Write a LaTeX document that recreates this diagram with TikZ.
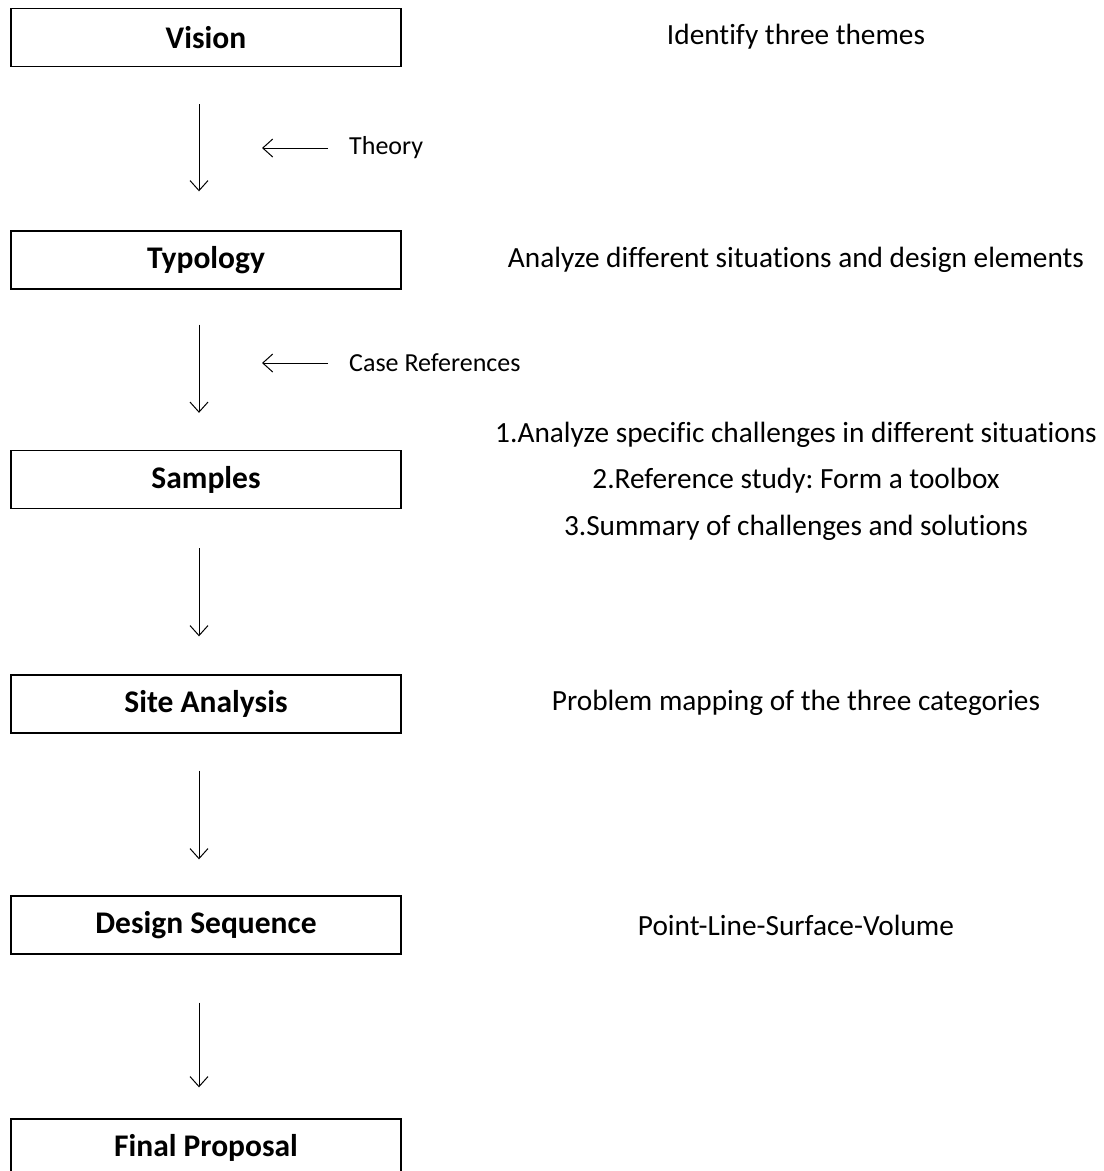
\documentclass[tikz,border=0pt]{standalone}
\usepackage{fontspec}
\setmainfont{Carlito}[Ligatures=CommonOff]
\frenchspacing
\usetikzlibrary{arrows.meta,calc}

\tikzset{
  stage/.style={draw, line width=1.4pt, minimum width=390pt, minimum height=58pt, inner sep=0pt,
    font=\fontsize{31.5}{37}\selectfont\bfseries},
  remark/.style={inner sep=0pt, font=\fontsize{29.3}{35}\selectfont},
  input/.style={remark, anchor=west, font=\fontsize{26}{31}\selectfont},
  flow/.style={-{Straight Barb[length=10pt,width=18pt]}, line width=1pt},
}

\begin{document}
\begin{tikzpicture}[x=1pt,y=-1pt]
  \useasboundingbox (0,0) rectangle (1104,1171);
  % stages
  \node[stage] (vision) at (206,37.5) {Vision};
  \node[stage] (typology) at (206,260) {Typology};
  \node[stage] (samples) at (206,479.5) {Samples};
  \node[stage] (site) at (206,704) {Site Analysis};
  \node[stage] (design) at (206,925) {Design Sequence};
  \node[stage] (final) at (206,1148) {Final Proposal};
  % remarks on the right
  \node[remark] (themes) at (796,37) {Identify three themes};
  \node[remark] (situations) at (796,260) {Analyze different situations and design elements};
  \node[remark] (challenges) at (796,435) {1.Analyze specific challenges in different situations};
  \node[remark] (toolbox) at (796,481) {2.Reference study: Form a toolbox};
  \node[remark] (summary) at (796,528) {3.Summary of challenges and solutions};
  \node[remark] (mapping) at (796,703) {Problem mapping of the three categories};
  \node[remark] (volume) at (796,925) {Point-Line-Surface-Volume};
  % inputs
  \node[input] (theory) at (349,148) {Theory};
  \node[input] (cases) at (349,363) {Case References};
  \draw[flow] ([xshift=-21pt]theory.west) -- ++(-66,0);
  \draw[flow] ([xshift=-21pt]cases.west) -- ++(-66,0);
  % flow down
  \foreach \u/\l/\ga/\gb in {vision/typology/37/39, typology/samples/35/37,
      samples/site/39/38, site/design/37/36, design/final/48/31}
    \draw[flow] ([xshift=-7pt,yshift=-\ga pt]\u.south) -- ([xshift=-7pt,yshift=\gb pt]\l.north);
\end{tikzpicture}
\end{document}
